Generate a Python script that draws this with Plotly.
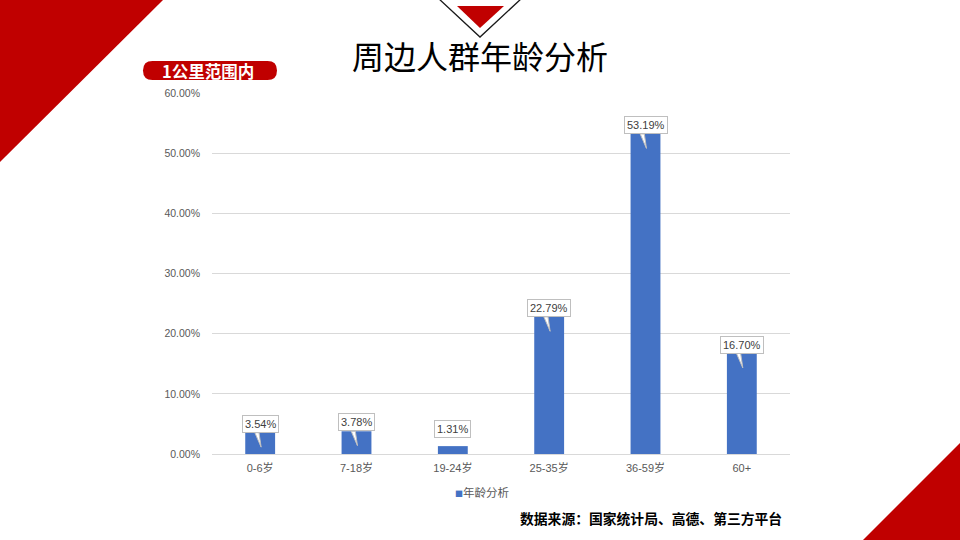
import plotly.graph_objects as go

# ---- data ----
categories = ["0-6岁", "7-18岁", "19-24岁", "25-35岁", "36-59岁", "60+"]
values = [3.54, 3.78, 1.31, 22.79, 53.19, 16.70]
series_name = "年龄分析"
title_text = "周边人群年龄分析"
badge_text = "1公里范围内"
source_text = "数据来源：国家统计局、高德、第三方平台"

# ---- layout geometry (pixels) ----
W, H = 960, 540
L, R, T, B = 212, 790, 93, 454
RED = "#C00000"
BLUE = "#4472C4"
FONT = "Liberation Sans, Noto Sans CJK SC, sans-serif"
CJK = "Noto Sans CJK SC, sans-serif"


def px(x):
    return (x - L) / (R - L)


def py(y):
    return (B - y) / (B - T)


def ppath(points, close=True):
    s = "M" + " L".join(f"{px(x):.5f},{py(y):.5f}" for x, y in points)
    return s + (" Z" if close else "")


fig = go.Figure()
fig.add_trace(go.Bar(
    x=categories, y=values, name=series_name,
    marker=dict(color=BLUE, line=dict(width=0)),
    width=0.31, showlegend=False, hoverinfo="x+y",
))

shapes = []
# decorative corner triangles
shapes.append(dict(type="path", xref="paper", yref="paper",
                   path=ppath([(0, 0), (163, 0), (0, 162)]),
                   fillcolor=RED, line=dict(width=0), layer="below"))
shapes.append(dict(type="path", xref="paper", yref="paper",
                   path=ppath([(960, 443), (960, 540), (863, 540)]),
                   fillcolor=RED, line=dict(width=0), layer="below"))
# top centre decoration
shapes.append(dict(type="path", xref="paper", yref="paper",
                   path=ppath([(438, -2), (480, 37), (522, -2)], close=False),
                   line=dict(color="#1a1a1a", width=1.3)))
shapes.append(dict(type="path", xref="paper", yref="paper",
                   path=ppath([(457, 6), (504, 6), (480, 28)]),
                   fillcolor=RED, line=dict(width=0)))
# badge pill
bx0, bx1, by0, by1, r = 143, 277, 61, 80, 9.5
pill = (f"M{px(bx0 + r):.5f},{py(by0):.5f} L{px(bx1 - r):.5f},{py(by0):.5f} "
        f"Q{px(bx1):.5f},{py(by0):.5f} {px(bx1):.5f},{py((by0 + by1) / 2):.5f} "
        f"Q{px(bx1):.5f},{py(by1):.5f} {px(bx1 - r):.5f},{py(by1):.5f} "
        f"L{px(bx0 + r):.5f},{py(by1):.5f} "
        f"Q{px(bx0):.5f},{py(by1):.5f} {px(bx0):.5f},{py((by0 + by1) / 2):.5f} "
        f"Q{px(bx0):.5f},{py(by0):.5f} {px(bx0 + r):.5f},{py(by0):.5f} Z")
shapes.append(dict(type="path", xref="paper", yref="paper", path=pill,
                   fillcolor=RED, line=dict(width=0)))

annotations = []
# data label callouts
for i, v in enumerate(values):
    base = max(v, 2.6)
    if v > 3:
        shapes.append(dict(type="path", xref="x", yref="y",
                           path=f"M{i - 0.055},{v} L{i - 0.012},{v} L{i + 0.01},{v - 2.4} Z",
                           fillcolor="white", line=dict(color="#BFBFBF", width=1)))
    annotations.append(dict(
        x=categories[i], y=base, xref="x", yref="y", text=f"{v:.2f}%",
        showarrow=False, yanchor="bottom", xanchor="center",
        bgcolor="white", bordercolor="#BFBFBF", borderwidth=1, borderpad=2,
        font=dict(family=FONT, size=11, color="#404040"),
    ))

# badge text
annotations.append(dict(x=px(208), y=py(70.5), xref="paper", yref="paper",
                        text=f"<b>{badge_text}</b>", showarrow=False,
                        xanchor="center", yanchor="middle",
                        font=dict(family=CJK, size=16.5, color="white")))
# legend (manual)
annotations.append(dict(x=px(453), y=py(492), xref="paper", yref="paper",
                        text=f"<span style='color:{BLUE};font-size:8px'>■</span>{series_name}",
                        showarrow=False, xanchor="left", yanchor="middle",
                        font=dict(family=CJK, size=11.5, color="#595959")))
# source
annotations.append(dict(x=px(518), y=py(518), xref="paper", yref="paper",
                        text=f"<b>{source_text}</b>", showarrow=False,
                        xanchor="left", yanchor="middle",
                        font=dict(family=CJK, size=13.8, color="#000000")))

fig.update_layout(
    width=W, height=H, autosize=False,
    margin=dict(l=L, r=W - R, t=T, b=H - B, pad=0),
    paper_bgcolor="white", plot_bgcolor="white",
    title=dict(text=title_text, x=0.5, xref="container", xanchor="center",
               y=1 - 58 / H, yref="container", yanchor="middle",
               font=dict(family=CJK, size=32, color="#000000")),
    xaxis=dict(type="category", showgrid=False, showline=True,
               linecolor="#D9D9D9", linewidth=1, ticks="",
               tickfont=dict(family=FONT, size=11, color="#595959"),
               ticklabelstandoff=4, fixedrange=True),
    yaxis=dict(range=[0, 60], dtick=10, tickformat=".2f", ticksuffix="%",
               showgrid=True, gridcolor="#D9D9D9", gridwidth=1,
               zeroline=False, showline=False, ticks="",
               tickfont=dict(family=FONT, size=10.5, color="#595959"),
               ticklabelstandoff=11, fixedrange=True),
    bargap=0.69,
    shapes=shapes, annotations=annotations,
    showlegend=False,
)

fig.write_html("out.html", config={"displayModeBar": False},
               post_script="document.body.style.margin='0';document.body.style.padding='0';document.body.style.overflow='hidden';")
